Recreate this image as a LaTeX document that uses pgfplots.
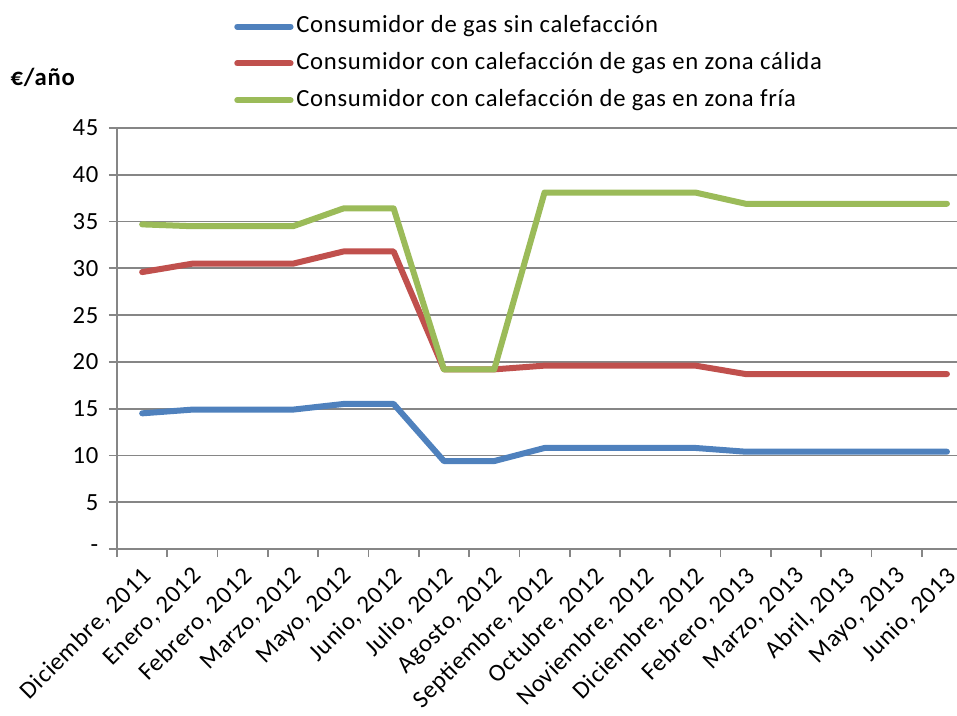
\documentclass[border=0pt]{standalone}
\usepackage{fontspec}
\setmainfont{Carlito}
\usepackage{pgfplots}
\pgfplotsset{compat=1.18}
\definecolor{gblue}{HTML}{4F81BD}
\definecolor{gred}{HTML}{C0504D}
\definecolor{ggreen}{HTML}{9BBB59}
\definecolor{ggrid}{HTML}{868686}
\newcommand{\chartfont}{\fontsize{18.5pt}{22pt}\selectfont\addfontfeature{LetterSpace=3}}
\begin{document}
\begin{tikzpicture}
\useasboundingbox (-87.75pt,-124.5pt) rectangle (630pt,411.75pt);
\begin{axis}[
    at={(0pt,0pt)}, anchor=south west,
    scale only axis,
    width=630pt, height=315.75pt,
    xmin=-0.5, xmax=16.2,
    ymin=0, ymax=45,
    axis x line*=bottom,
    axis y line*=left,
    axis line style={ggrid, line width=1.3pt},
    ytick={0,5,10,15,20,25,30,35,40,45},
    yticklabels={-,5,10,15,20,25,30,35,40,45},
    xtick={0,1,2,3,4,5,6,7,8,9,10,11,12,13,14,15,16},
    xticklabels={
        {Diciembre, 2011},
        {Enero, 2012},
        {Febrero, 2012},
        {Marzo, 2012},
        {Mayo, 2012},
        {Junio, 2012},
        {Julio, 2012},
        {Agosto, 2012},
        {Septiembre, 2012},
        {Octubre, 2012},
        {Noviembre, 2012},
        {Diciembre, 2012},
        {Febrero, 2013},
        {Marzo, 2013},
        {Abril, 2013},
        {Mayo, 2013},
        {Junio, 2013}},
    minor xtick={-0.5,0.5,1.5,2.5,3.5,4.5,5.5,6.5,7.5,8.5,9.5,10.5,11.5,12.5,13.5,14.5,15.5},
    tick align=outside,
    x tick style={draw=none},
    minor x tick style={draw=ggrid, line width=1.3pt},
    y tick style={draw=ggrid, line width=1.3pt},
    major tick length=6pt,
    minor tick length=6pt,
    ymajorgrids,
    grid style={ggrid, line width=1.3pt},
    /pgf/number format/assume math mode=true,
    tick label style={font=\chartfont},
    y tick label style={xshift=-4.5pt},
    x tick label style={rotate=45, anchor=east, yshift=-11pt, xshift=-2pt},
    ylabel={\textbf{€/año}},
    ylabel style={rotate=-90, at={(axis description cs:-0.088,1.12)}, anchor=center, font=\chartfont},
    legend style={at={(0.1345,1.281)}, anchor=north west, draw=none, fill=none,
        font=\chartfont, legend cell align=left, row sep=6.6pt,
        nodes={inner sep=2pt, text height=13pt, text depth=4pt}},
    legend image code/.code={\draw[#1, line width=4.5pt, line cap=round] (0pt,0pt) -- (40pt,0pt);},
    clip=false,
]
\addplot[gblue, line width=4.5pt, line join=round, line cap=round] coordinates {
    (0,14.5) (1,14.9) (2,14.9) (3,14.9) (4,15.5) (5,15.5) (6,9.4) (7,9.4)
    (8,10.8) (9,10.8) (10,10.8) (11,10.8) (12,10.4) (13,10.4) (14,10.4) (15,10.4) (16,10.4)
};
\addplot[gred, line width=4.5pt, line join=round, line cap=round] coordinates {
    (0,29.6) (1,30.5) (2,30.5) (3,30.5) (4,31.8) (5,31.8) (6,19.2) (7,19.2)
    (8,19.6) (9,19.6) (10,19.6) (11,19.6) (12,18.7) (13,18.7) (14,18.7) (15,18.7) (16,18.7)
};
\addplot[ggreen, line width=4.5pt, line join=round, line cap=round] coordinates {
    (0,34.7) (1,34.5) (2,34.5) (3,34.5) (4,36.4) (5,36.4) (6,19.2) (7,19.2)
    (8,38.1) (9,38.1) (10,38.1) (11,38.1) (12,36.9) (13,36.9) (14,36.9) (15,36.9) (16,36.9)
};
\legend{Consumidor de gas sin calefacción,
        Consumidor con calefacción de gas en zona cálida,
        Consumidor con calefacción de gas en zona fría}
\end{axis}
\end{tikzpicture}
\end{document}
